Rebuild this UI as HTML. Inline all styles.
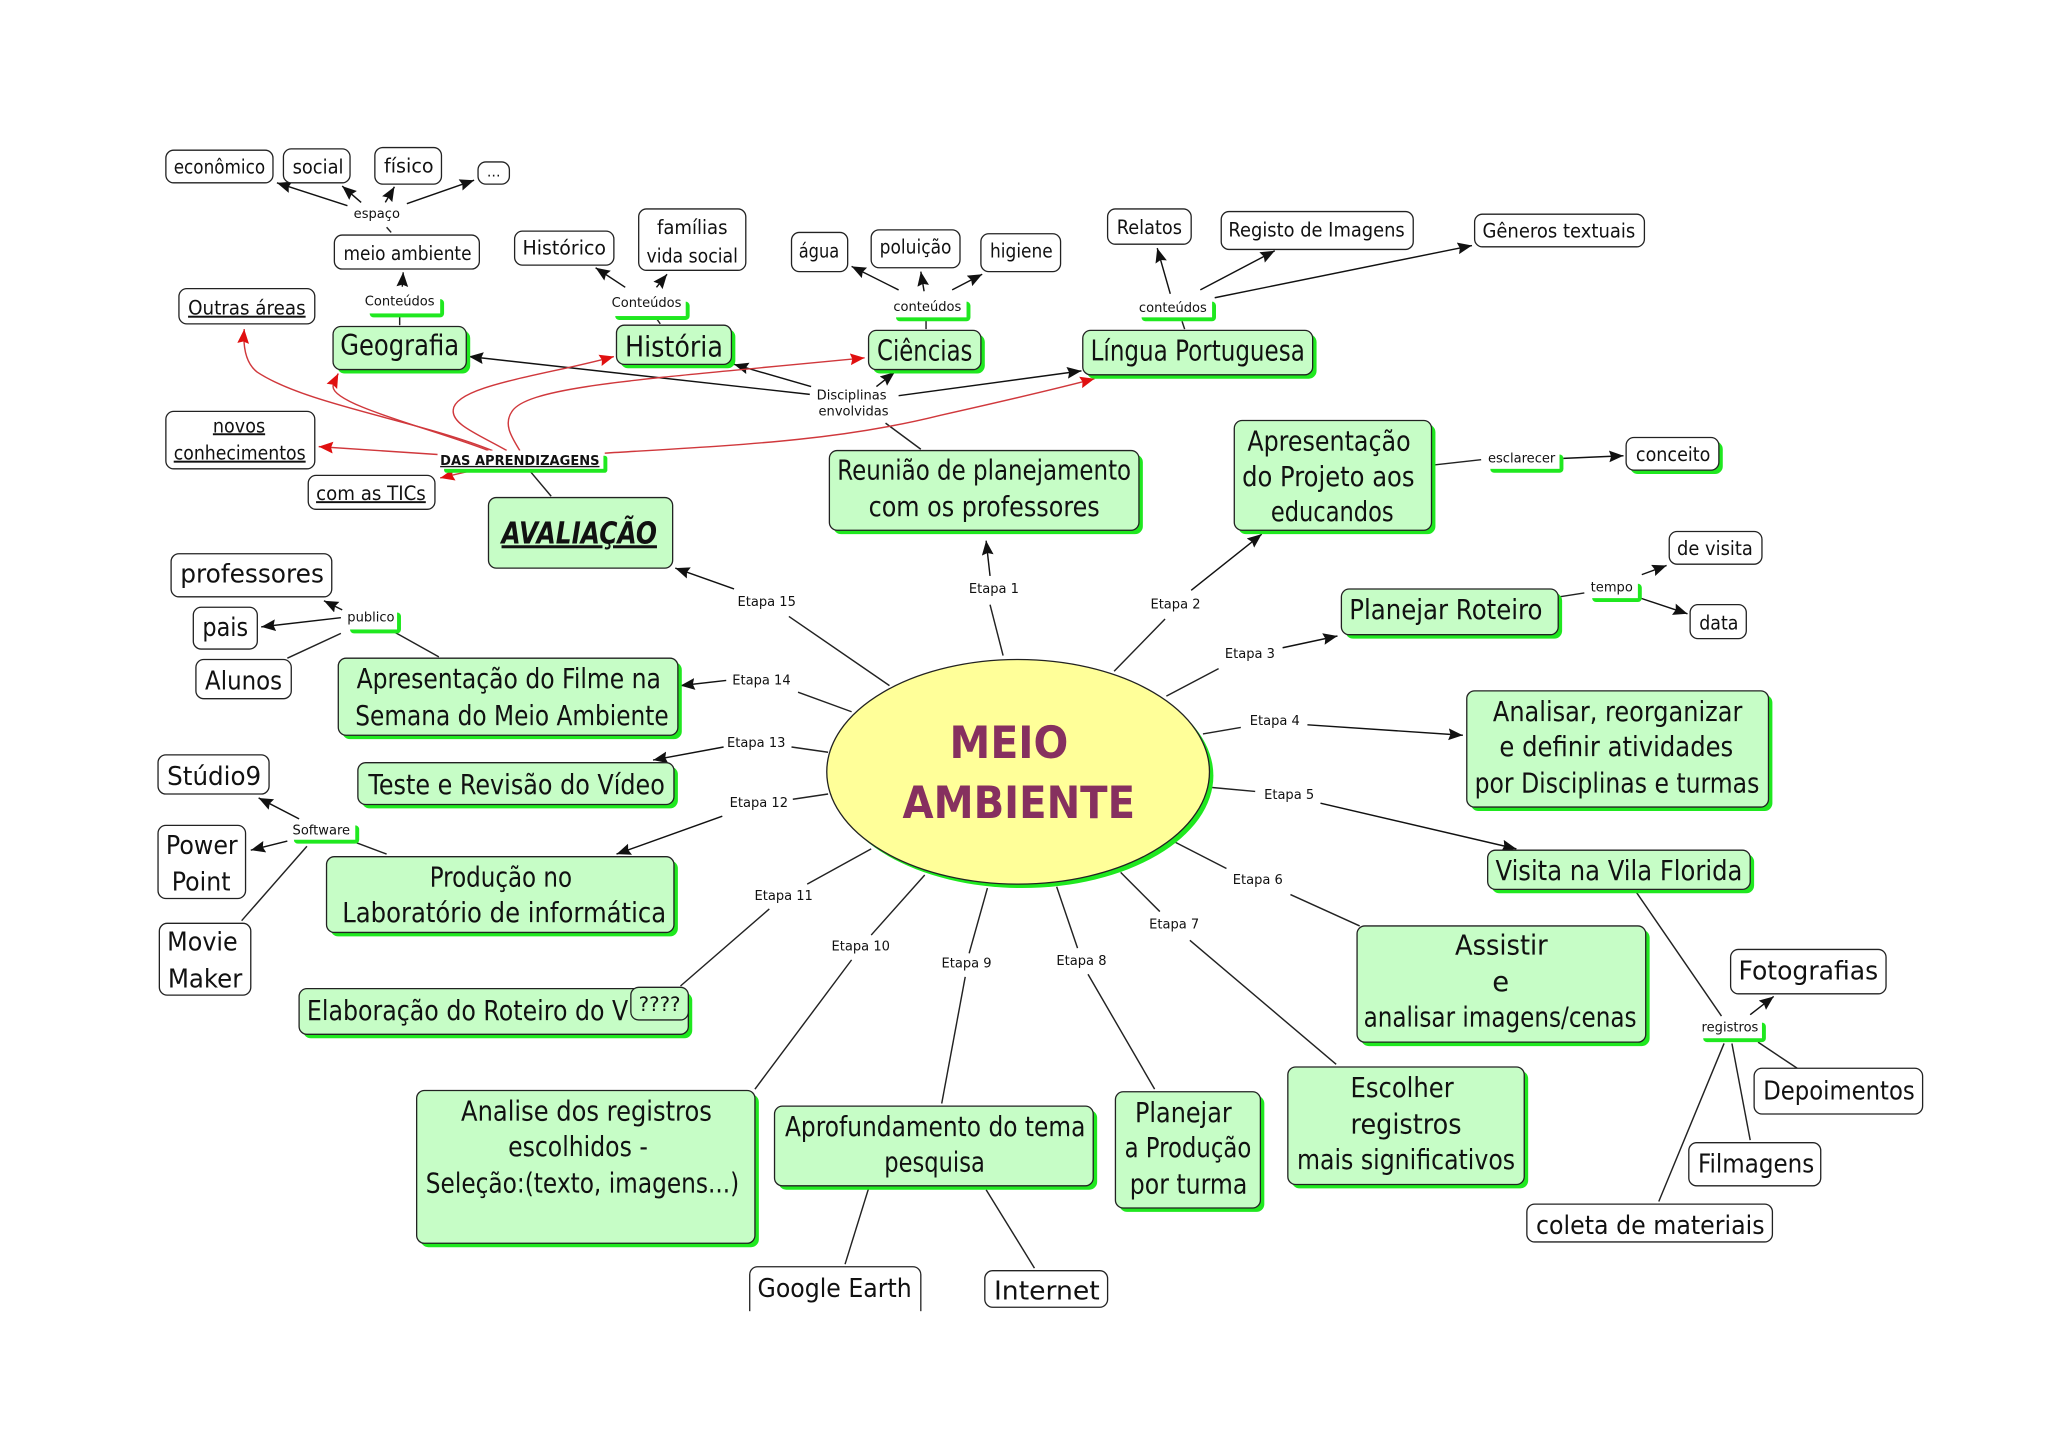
<!DOCTYPE html>
<html lang="pt"><head><meta charset="utf-8"><title>Meio Ambiente</title>
<style>
html,body{margin:0;padding:0;background:#fff}
svg{display:block}
text{font-family:"DejaVu Sans","Liberation Sans",sans-serif;fill:#111;text-anchor:middle}
.g{fill:#c6fdc6;stroke:#222;stroke-width:1}
.w{fill:#fff;stroke:#222;stroke-width:1}
.s{fill:#1fe81f}
.l line{stroke:#222;stroke-width:1.1}
.a line{stroke:#111;stroke-width:1.1;marker-end:url(#k)}
.r path,.r line{stroke:#d0383c;stroke-width:1.1;fill:none;marker-end:url(#r)}
.t15{font-size:15px}.t20{font-size:20px}.t21{font-size:21px}.t22{font-size:22px}
.e{font-size:10px;fill:#222}
.u{text-decoration:underline}
</style></head><body>
<svg xmlns="http://www.w3.org/2000/svg" width="2048" height="1447" viewBox="0 0 1568 1108" preserveAspectRatio="none">
<defs>
<marker id="k" markerUnits="userSpaceOnUse" markerWidth="12" markerHeight="10" refX="11" refY="4.5" orient="auto"><path d="M0 0L11 4.5L0 9L1.5 4.5Z" fill="#111"/></marker>
<marker id="r" markerUnits="userSpaceOnUse" markerWidth="12" markerHeight="10" refX="11" refY="4.5" orient="auto"><path d="M0 0L11 4.5L0 9L1.5 4.5Z" fill="#e01010"/></marker>
</defs>
<rect width="1568" height="1108" fill="#fff"/>

<!-- plain connectors -->
<g class="l">
<line x1="768" y1="502" x2="758" y2="463"/><line x1="853" y1="514" x2="892" y2="474"/>
<line x1="893" y1="533" x2="933" y2="512"/><line x1="921" y1="562" x2="950" y2="557"/>
<line x1="928" y1="603" x2="961" y2="606"/><line x1="900" y1="645" x2="939" y2="665"/>
<line x1="988" y1="685" x2="1041" y2="709"/><line x1="858" y1="668" x2="888" y2="698"/>
<line x1="911" y1="720" x2="1023" y2="815"/><line x1="809" y1="679" x2="825" y2="726"/>
<line x1="833" y1="746" x2="884" y2="834"/><line x1="756" y1="680" x2="742" y2="730"/>
<line x1="739" y1="748" x2="721" y2="845"/><line x1="708" y1="670" x2="667" y2="716"/>
<line x1="652" y1="735" x2="578" y2="834"/><line x1="667" y1="650" x2="618" y2="677"/>
<line x1="589" y1="696" x2="521" y2="755"/><line x1="634" y1="608" x2="607" y2="612"/>
<line x1="634" y1="576" x2="606" y2="572"/><line x1="652" y1="545" x2="611" y2="530"/>
<line x1="681" y1="525" x2="604" y2="472"/>
<line x1="705" y1="344" x2="678" y2="324"/>
<line x1="296" y1="174" x2="299.5" y2="178"/>
<line x1="306" y1="241" x2="306" y2="249"/><line x1="502" y1="243" x2="505.5" y2="248"/>
<line x1="709" y1="245" x2="709" y2="252"/><line x1="905" y1="246" x2="907" y2="252"/>
<line x1="406" y1="361" x2="422" y2="380"/>
<line x1="1098" y1="356" x2="1134" y2="352"/><line x1="1194" y1="457" x2="1213" y2="454"/>
<line x1="336" y1="503" x2="302" y2="484"/><line x1="261" y1="485" x2="220" y2="504"/>
<line x1="296" y1="654" x2="272" y2="645"/><line x1="235" y1="648" x2="185" y2="705"/>
<line x1="1252" y1="682" x2="1318" y2="778"/><line x1="1346" y1="798" x2="1376" y2="818"/>
<line x1="1326" y1="799" x2="1340" y2="873"/><line x1="1320" y1="799" x2="1270" y2="920"/>
<line x1="665" y1="910" x2="647" y2="968"/><line x1="755" y1="911" x2="792" y2="971"/>
</g>

<!-- arrows -->
<g class="a">
<line x1="758" y1="441" x2="755" y2="414"/><line x1="912" y1="452" x2="966" y2="409"/>
<line x1="982" y1="496" x2="1024" y2="487"/><line x1="1001" y1="555" x2="1120" y2="563"/>
<line x1="1011" y1="615" x2="1161" y2="650"/><line x1="553" y1="625" x2="472" y2="654"/>
<line x1="554" y1="572" x2="500" y2="582"/><line x1="556" y1="521" x2="521" y2="525"/>
<line x1="562" y1="451" x2="517" y2="435"/>
<line x1="621" y1="296" x2="562" y2="279"/><line x1="620" y1="302" x2="359" y2="273"/>
<line x1="671" y1="296" x2="685" y2="285"/><line x1="688" y1="303" x2="828" y2="284"/>
<line x1="266" y1="157.5" x2="212" y2="140"/><line x1="276.5" y1="155" x2="262" y2="142.5"/>
<line x1="295" y1="155" x2="302" y2="143"/><line x1="311.5" y1="156" x2="363" y2="138"/>
<line x1="308" y1="219.5" x2="308.7" y2="208.5"/>
<line x1="478.7" y1="220" x2="456" y2="205"/><line x1="502.6" y1="220" x2="510.7" y2="210"/>
<line x1="688" y1="222" x2="652" y2="204"/><line x1="707.5" y1="223" x2="705" y2="208"/>
<line x1="729" y1="222" x2="752" y2="210"/>
<line x1="896" y1="225" x2="886" y2="190"/><line x1="919" y1="222" x2="976" y2="192"/>
<line x1="930" y1="228" x2="1127" y2="188"/>
<line x1="1197" y1="351" x2="1243" y2="349"/>
<line x1="1257" y1="440" x2="1276" y2="433"/><line x1="1256" y1="458" x2="1292" y2="470"/>
<line x1="262" y1="467" x2="248" y2="460"/><line x1="261" y1="473" x2="200" y2="480"/>
<line x1="229" y1="627" x2="198" y2="611"/><line x1="220" y1="644" x2="192" y2="651"/>
<line x1="1340" y1="777" x2="1358" y2="763"/>
</g>

<!-- red arrows -->
<g class="r">
<path d="M377 345C320 322 235 310 197 285C188 278 186 265 187 252"/>
<path d="M374 345C330 328 255 310 255 296C255 293 257 290 259 286"/>
<path d="M388 345C365 332 346 325 347 314C348 295 420 287 470 273"/>
<path d="M398 345C392 335 385 325 392 315C405 295 500 290 662 274"/>
<path d="M463 347C560 341 640 338 720 318C760 309 800 300 838 290"/>
<line x1="335" y1="348" x2="244" y2="342"/>
<line x1="361" y1="360.400" x2="337" y2="366"/>
</g>

<!-- central ellipse -->
<ellipse cx="782.500" cy="594" rx="146.500" ry="86" class="s"/>
<ellipse cx="779.500" cy="591" rx="146.500" ry="86" fill="#ffff99" stroke="#222" stroke-width="1"/>
<text x="772.500" y="580.500" font-size="34" font-weight="bold" style="fill:#86305f" textLength="91" lengthAdjust="spacingAndGlyphs">MEIO</text>
<text x="780" y="626.500" font-size="34" font-weight="bold" style="fill:#86305f" textLength="178" lengthAdjust="spacingAndGlyphs">AMBIENTE</text>

<!-- green nodes -->
<g class="s">
<rect x="258" y="253" width="102" height="33" rx="6"/>
<rect x="475" y="252" width="88" height="30" rx="6"/>
<rect x="668" y="256" width="86" height="30" rx="6"/>
<rect x="832" y="256" width="176" height="34" rx="6"/>
<rect x="638" y="348" width="237" height="61" rx="6"/>
<rect x="948" y="325" width="151" height="84" rx="6"/>
<rect x="1030" y="454" width="166" height="35" rx="6"/>
<rect x="1126" y="532" width="231" height="89" rx="6"/>
<rect x="1142" y="654" width="201" height="30" rx="6"/>
<rect x="1042" y="712" width="221" height="89" rx="6"/>
<rect x="989" y="820" width="181" height="90" rx="6"/>
<rect x="857" y="839" width="111" height="89" rx="6"/>
<rect x="596" y="850" width="244" height="61" rx="6"/>
<rect x="322" y="838" width="259" height="117" rx="6"/>
<rect x="232" y="760" width="298" height="35" rx="6"/>
<rect x="253" y="659" width="266" height="58" rx="6"/>
<rect x="277" y="587" width="242" height="32" rx="6"/>
<rect x="262" y="507" width="260" height="59" rx="6"/>
<rect x="1248" y="338" width="71" height="25" rx="6"/>
<!-- small link label shadows -->
<rect x="283" y="229" width="57" height="14" rx="3"/>
<rect x="471" y="231" width="57" height="14" rx="3"/>
<rect x="686" y="231" width="57" height="15" rx="3"/>
<rect x="874" y="231" width="57" height="15" rx="3"/>
<rect x="340" y="349" width="125" height="13" rx="2"/>
<rect x="1141" y="348" width="56" height="14" rx="3"/>
<rect x="1219" y="447" width="38" height="14" rx="3"/>
<rect x="268" y="469" width="39" height="16" rx="3"/>
<rect x="225" y="632" width="50" height="14" rx="3"/>
<rect x="1304" y="783" width="48" height="15" rx="3"/>
</g>
<g fill="#fff">
<rect x="280" y="225" width="57" height="15"/>
<rect x="468" y="227" width="57" height="15"/>
<rect x="683" y="227" width="57" height="16"/>
<rect x="871" y="227" width="57" height="16"/>
<rect x="337" y="345" width="125" height="14"/>
<rect x="1138" y="344" width="56" height="15"/>
<rect x="1216" y="443" width="38" height="15"/>
<rect x="265" y="465" width="39" height="17"/>
<rect x="222" y="628" width="50" height="15"/>
<rect x="1301" y="779" width="48" height="16"/>
</g>
<g class="g">
<rect x="255" y="250" width="102" height="33" rx="6"/>
<rect x="472" y="249" width="88" height="30" rx="6"/>
<rect x="665" y="253" width="86" height="30" rx="6"/>
<rect x="829" y="253" width="176" height="34" rx="6"/>
<rect x="374" y="381" width="141" height="54" rx="6"/>
<rect x="635" y="345" width="237" height="61" rx="6"/>
<rect x="945" y="322" width="151" height="84" rx="6"/>
<rect x="1027" y="451" width="166" height="35" rx="6"/>
<rect x="1123" y="529" width="231" height="89" rx="6"/>
<rect x="1139" y="651" width="201" height="30" rx="6"/>
<rect x="1039" y="709" width="221" height="89" rx="6"/>
<rect x="986" y="817" width="181" height="90" rx="6"/>
<rect x="854" y="836" width="111" height="89" rx="6"/>
<rect x="593" y="847" width="244" height="61" rx="6"/>
<rect x="319" y="835" width="259" height="117" rx="6"/>
<rect x="229" y="757" width="298" height="35" rx="6"/>
<rect x="250" y="656" width="266" height="58" rx="6"/>
<rect x="274" y="584" width="242" height="32" rx="6"/>
<rect x="259" y="504" width="260" height="59" rx="6"/>
</g>

<!-- green node text -->
<g class="t22">
<text x="306" y="272" textLength="91" lengthAdjust="spacingAndGlyphs">Geografia</text>
<text x="516" y="273" textLength="75" lengthAdjust="spacingAndGlyphs">História</text>
<text x="708" y="276" textLength="73" lengthAdjust="spacingAndGlyphs">Ciências</text>
<text x="917" y="276" textLength="164" lengthAdjust="spacingAndGlyphs">Língua Portuguesa</text>
</g>
<text x="443.500" y="416" font-size="23" font-weight="bold" font-style="italic" class="u" textLength="119" lengthAdjust="spacingAndGlyphs">AVALIAÇÃO</text>
<g class="t21">
<text x="753.500" y="367" textLength="225" lengthAdjust="spacingAndGlyphs">Reunião de planejamento</text>
<text x="753.500" y="395" textLength="177" lengthAdjust="spacingAndGlyphs">com os professores</text>
<text x="1017.500" y="345" textLength="125" lengthAdjust="spacingAndGlyphs">Apresentação</text>
<text x="1017" y="372" textLength="132" lengthAdjust="spacingAndGlyphs">do Projeto aos</text>
<text x="1020" y="399" textLength="94" lengthAdjust="spacingAndGlyphs">educandos</text>
<text x="1107" y="474" textLength="148" lengthAdjust="spacingAndGlyphs">Planejar Roteiro</text>
<text x="1238.500" y="552" textLength="191" lengthAdjust="spacingAndGlyphs">Analisar, reorganizar</text>
<text x="1237.500" y="579" textLength="179" lengthAdjust="spacingAndGlyphs">e definir atividades</text>
<text x="1238" y="607" textLength="218" lengthAdjust="spacingAndGlyphs">por Disciplinas e turmas</text>
<text x="1239.500" y="674" textLength="189" lengthAdjust="spacingAndGlyphs">Visita na Vila Florida</text>
<text x="1149.500" y="731" textLength="71" lengthAdjust="spacingAndGlyphs">Assistir</text>
<text x="1149" y="759">e</text>
<text x="1148.500" y="786" textLength="209" lengthAdjust="spacingAndGlyphs">analisar imagens/cenas</text>
<text x="1073.500" y="840" textLength="79" lengthAdjust="spacingAndGlyphs">Escolher</text>
<text x="1076.500" y="868" textLength="85" lengthAdjust="spacingAndGlyphs">registros</text>
<text x="1076.500" y="895" textLength="167" lengthAdjust="spacingAndGlyphs">mais significativos</text>
<text x="906" y="859" textLength="74" lengthAdjust="spacingAndGlyphs">Planejar</text>
<text x="909.500" y="886" textLength="97" lengthAdjust="spacingAndGlyphs">a Produção</text>
<text x="910" y="914" textLength="90" lengthAdjust="spacingAndGlyphs">por turma</text>
<text x="716" y="870" textLength="230" lengthAdjust="spacingAndGlyphs">Aprofundamento do tema</text>
<text x="715.500" y="897" textLength="77" lengthAdjust="spacingAndGlyphs">pesquisa</text>
<text x="449" y="858" textLength="192" lengthAdjust="spacingAndGlyphs">Analise dos registros</text>
<text x="442.500" y="885" textLength="107" lengthAdjust="spacingAndGlyphs">escolhidos -</text>
<text x="446" y="913" textLength="240" lengthAdjust="spacingAndGlyphs">Seleção:(texto, imagens...)</text>
<text x="358" y="781" textLength="246" lengthAdjust="spacingAndGlyphs">Elaboração do Roteiro do V</text>
<text x="383.500" y="679" textLength="109" lengthAdjust="spacingAndGlyphs">Produção no</text>
<text x="386" y="706" textLength="248" lengthAdjust="spacingAndGlyphs">Laboratório de informática</text>
<text x="395.500" y="608" textLength="227" lengthAdjust="spacingAndGlyphs">Teste e Revisão do Vídeo</text>
<text x="389.500" y="527" textLength="233" lengthAdjust="spacingAndGlyphs">Apresentação do Filme na</text>
<text x="392" y="555" textLength="240" lengthAdjust="spacingAndGlyphs">Semana do Meio Ambiente</text>
</g>

<!-- white nodes -->
<g class="w">
<rect x="127" y="115" width="82" height="25" rx="6"/>
<rect x="217" y="114" width="51" height="26" rx="6"/>
<rect x="287" y="113" width="51" height="28" rx="6"/>
<rect x="366" y="124" width="24" height="17" rx="6"/>
<rect x="256" y="180" width="111" height="26" rx="6"/>
<rect x="394" y="177" width="76" height="26" rx="6"/>
<rect x="489" y="160" width="82" height="47" rx="6"/>
<rect x="606" y="178" width="43" height="30" rx="6"/>
<rect x="667" y="176" width="68" height="29" rx="6"/>
<rect x="751" y="179" width="61" height="29" rx="6"/>
<rect x="848" y="160" width="64" height="27" rx="6"/>
<rect x="935" y="162" width="147" height="29" rx="6"/>
<rect x="1129" y="164" width="130" height="25" rx="6"/>
<rect x="137" y="221" width="104" height="27" rx="6"/>
<rect x="127" y="315" width="114" height="44" rx="6"/>
<rect x="236" y="364" width="97" height="26" rx="6"/>
<rect x="1245" y="335" width="71" height="25" rx="6"/>
<rect x="1278" y="407" width="71" height="25" rx="6"/>
<rect x="1294" y="463" width="43" height="26" rx="6"/>
<rect x="131" y="424" width="123" height="33" rx="6"/>
<rect x="148" y="465" width="49" height="32" rx="6"/>
<rect x="150" y="505" width="73" height="30" rx="6"/>
<rect x="121" y="578" width="85" height="30" rx="6"/>
<rect x="121" y="632" width="67" height="56" rx="6"/>
<rect x="122" y="707" width="70" height="55" rx="6"/>
<rect x="1325" y="727" width="119" height="34" rx="6"/>
<rect x="1343" y="818" width="129" height="35" rx="6"/>
<rect x="1293" y="875" width="101" height="33" rx="6"/>
<rect x="1169" y="922" width="188" height="29" rx="6"/>
<rect x="574" y="970" width="131" height="40" rx="6"/>
<rect x="754" y="973" width="94" height="28" rx="6"/>
</g>
<rect x="483" y="756" width="44" height="25" rx="6" fill="#c6fdc6" stroke="#222" stroke-width="1"/>
<rect x="560" y="1004" width="160" height="10" fill="#fff"/>

<!-- white node text -->
<g class="t15">
<text x="168" y="133" textLength="70" lengthAdjust="spacingAndGlyphs">econômico</text>
<text x="243.500" y="133" textLength="39" lengthAdjust="spacingAndGlyphs">social</text>
<text x="313" y="132" textLength="38" lengthAdjust="spacingAndGlyphs">físico</text>
<text x="378" y="135" font-size="11" style="font-size:11px">...</text>
<text x="312" y="199" textLength="98" lengthAdjust="spacingAndGlyphs">meio ambiente</text>
<text x="432" y="195" textLength="64" lengthAdjust="spacingAndGlyphs">Histórico</text>
<text x="530" y="179" textLength="54" lengthAdjust="spacingAndGlyphs">famílias</text>
<text x="530" y="201" textLength="70" lengthAdjust="spacingAndGlyphs">vida social</text>
<text x="627" y="197" textLength="31" lengthAdjust="spacingAndGlyphs">água</text>
<text x="701" y="194" textLength="55" lengthAdjust="spacingAndGlyphs">poluição</text>
<text x="782" y="197" textLength="48" lengthAdjust="spacingAndGlyphs">higiene</text>
<text x="880" y="179" textLength="50" lengthAdjust="spacingAndGlyphs">Relatos</text>
<text x="1008" y="181" textLength="135" lengthAdjust="spacingAndGlyphs">Registo de Imagens</text>
<text x="1193.500" y="182" textLength="117" lengthAdjust="spacingAndGlyphs">Gêneros textuais</text>
<text x="189" y="241" class="u" textLength="90" lengthAdjust="spacingAndGlyphs">Outras áreas</text>
<text x="183" y="331" class="u" textLength="40" lengthAdjust="spacingAndGlyphs">novos</text>
<text x="183.500" y="352" class="u" textLength="101" lengthAdjust="spacingAndGlyphs">conhecimentos</text>
<text x="284" y="383" class="u" textLength="84" lengthAdjust="spacingAndGlyphs">com as TICs</text>
<text x="1281" y="353" textLength="57" lengthAdjust="spacingAndGlyphs">conceito</text>
<text x="1313" y="425" textLength="58" lengthAdjust="spacingAndGlyphs">de visita</text>
<text x="1316" y="482" textLength="30" lengthAdjust="spacingAndGlyphs">data</text>
<text x="505" y="774" textLength="32" lengthAdjust="spacingAndGlyphs">????</text>
</g>
<g class="t20">
<text x="193" y="446" textLength="110" lengthAdjust="spacingAndGlyphs">professores</text>
<text x="172.500" y="487" textLength="35" lengthAdjust="spacingAndGlyphs">pais</text>
<text x="186.500" y="528" textLength="59" lengthAdjust="spacingAndGlyphs">Alunos</text>
<text x="164" y="601" textLength="72" lengthAdjust="spacingAndGlyphs">Stúdio9</text>
<text x="154.500" y="654" textLength="55" lengthAdjust="spacingAndGlyphs">Power</text>
<text x="154" y="682" textLength="45" lengthAdjust="spacingAndGlyphs">Point</text>
<text x="155" y="728" textLength="54" lengthAdjust="spacingAndGlyphs">Movie</text>
<text x="157" y="756" textLength="57" lengthAdjust="spacingAndGlyphs">Maker</text>
<text x="1384.500" y="750" textLength="107" lengthAdjust="spacingAndGlyphs">Fotografias</text>
<text x="1408" y="842" textLength="116" lengthAdjust="spacingAndGlyphs">Depoimentos</text>
<text x="1344.500" y="898" textLength="89" lengthAdjust="spacingAndGlyphs">Filmagens</text>
<text x="1263.500" y="945" textLength="175" lengthAdjust="spacingAndGlyphs">coleta de materiais</text>
<text x="639" y="993" textLength="118" lengthAdjust="spacingAndGlyphs">Google Earth</text>
<text x="801.500" y="995" textLength="81" lengthAdjust="spacingAndGlyphs">Internet</text>
</g>

<!-- link labels -->
<g class="e">
<text x="761" y="454">Etapa 1</text><text x="900" y="466">Etapa 2</text>
<text x="957" y="504">Etapa 3</text><text x="976" y="555">Etapa 4</text>
<text x="987" y="612">Etapa 5</text><text x="963" y="677">Etapa 6</text>
<text x="899" y="711">Etapa 7</text><text x="828" y="739">Etapa 8</text>
<text x="740" y="741">Etapa 9</text><text x="659" y="728">Etapa 10</text>
<text x="600" y="689">Etapa 11</text><text x="581" y="618">Etapa 12</text>
<text x="579" y="572">Etapa 13</text><text x="583" y="524">Etapa 14</text>
<text x="587" y="464">Etapa 15</text>
<text x="288.500" y="167">espaço</text>
<text x="306" y="234">Conteúdos</text>
<text x="495" y="235">Conteúdos</text>
<text x="710" y="238">conteúdos</text>
<text x="898" y="239">conteúdos</text>
<text x="652" y="306">Disciplinas</text>
<text x="653.500" y="318">envolvidas</text>
<text x="1165" y="354">esclarecer</text>
<text x="1234" y="453">tempo</text>
<text x="284" y="476">publico</text>
<text x="246" y="639">Software</text>
<text x="1324.500" y="790">registros</text>
</g>
<text x="398" y="356" font-size="10.500" font-weight="bold" class="u" textLength="122" lengthAdjust="spacingAndGlyphs">DAS APRENDIZAGENS</text>
</svg>
</body></html>
